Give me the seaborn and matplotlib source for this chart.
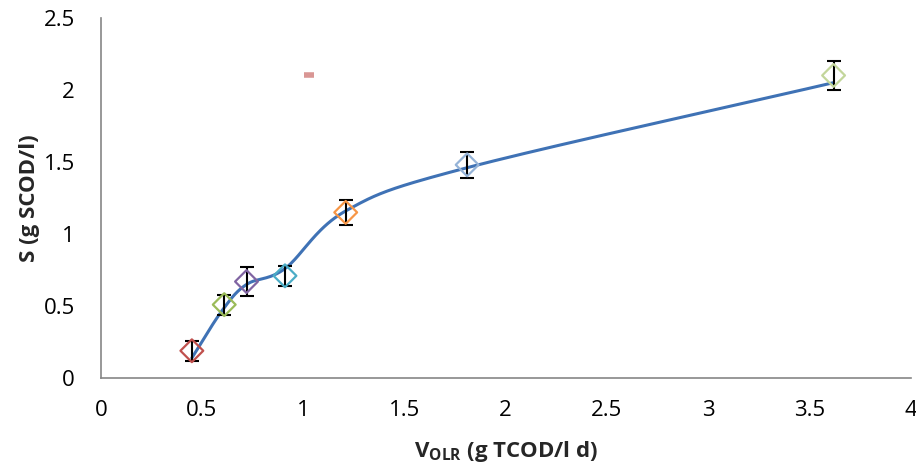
import numpy as np
import pandas as pd
import matplotlib
matplotlib.use("Agg")
import matplotlib.pyplot as plt
import seaborn as sns

# ---- data ----
olr = [0.45, 0.61, 0.72, 0.91, 1.21, 1.81, 3.62]
scod = [0.19, 0.51, 0.67, 0.71, 1.15, 1.48, 2.10]
scod_err = [0.07, 0.07, 0.10, 0.07, 0.085, 0.09, 0.10]
point_colors = ["#C0504D", "#9BBB59", "#8064A2", "#4BACC6", "#F79646", "#95B3D7", "#C3D69B"]

model_x = [0.45, 0.60, 0.72, 0.91, 1.21, 1.81, 3.62]
model_y = [0.14, 0.47, 0.65, 0.76, 1.16, 1.46, 2.05]

extra_x = [1.03]
extra_y = [2.10]

x_ticks = [0, 0.5, 1, 1.5, 2, 2.5, 3, 3.5, 4]
x_tick_labels = ["0", "0.5", "1", "1.5", "2", "2.5", "3", "3.5", "4"]
y_ticks = [0, 0.5, 1, 1.5, 2, 2.5]
y_tick_labels = ["0", "0.5", "1", "1.5", "2", "2.5"]


def smooth(xs, ys, n=40):
    # Catmull-Rom rendering of a smoothed line (like a spreadsheet "smoothed line")
    P = np.column_stack([xs, ys]).astype(float)
    P = np.vstack([P[0] - (P[1] - P[0]), P, P[-1] + (P[-1] - P[-2])])
    out = []
    for i in range(1, len(P) - 2):
        p0, p1, p2, p3 = P[i - 1], P[i], P[i + 1], P[i + 2]
        t = np.linspace(0, 1, n, endpoint=False)[:, None]
        seg = 0.5 * ((2 * p1) + (-p0 + p2) * t + (2 * p0 - 5 * p1 + 4 * p2 - p3) * t ** 2
                     + (-p0 + 3 * p1 - 3 * p2 + p3) * t ** 3)
        out.append(seg)
    out.append(P[-2][None, :])
    return np.vstack(out)


sns.set_theme(style="white")
plt.rcParams["font.family"] = ["Open Sans", "DejaVu Sans"]
plt.rcParams["mathtext.fontset"] = "custom"
plt.rcParams["mathtext.bf"] = "Open Sans:bold"
plt.rcParams["mathtext.rm"] = "Open Sans"

fig = plt.figure(figsize=(9.16, 4.68), dpi=100)
ax = fig.add_axes([0.110, 0.192, 0.884, 0.770])

curve = smooth(model_x, model_y)
df_curve = pd.DataFrame({"x": curve[:, 0], "y": curve[:, 1]})
sns.lineplot(data=df_curve, x="x", y="y", sort=False, ax=ax, color="#3F72B5", lw=2.2, zorder=2)

ax.errorbar(olr, scod, yerr=scod_err, fmt="none", ecolor="black", elinewidth=1.5,
            capsize=5, capthick=1.5, zorder=3)
ax.scatter(olr, scod, marker="D", s=135, facecolors="none", edgecolors=point_colors,
           linewidths=1.6, zorder=4)

ax.plot(extra_x, extra_y, marker="_", ms=7, mew=4, color="#D99694", linestyle="none", zorder=4)

ax.set_xlim(0, 4)
ax.set_ylim(0, 2.5)
ax.set_xticks(x_ticks)
ax.set_xticklabels(x_tick_labels)
ax.set_yticks(y_ticks)
ax.set_yticklabels(y_tick_labels)

for s in ["top", "right"]:
    ax.spines[s].set_visible(False)
for s in ["left", "bottom"]:
    ax.spines[s].set_color("#868686")
    ax.spines[s].set_linewidth(1.2)

ax.tick_params(axis="both", which="both", direction="out", length=5.5, width=1.2,
               color="#868686", labelsize=16, labelcolor="black")
ax.tick_params(axis="x", pad=10)
ax.tick_params(axis="y", pad=13)

ax.set_xlabel(r"$\mathbf{V_{OLR}}$ (g TCOD/l d)", fontsize=16, fontweight="bold", labelpad=13)
ax.set_ylabel("S (g SCOD/l)", fontsize=16, fontweight="bold", labelpad=3)
ax.grid(False)

fig.savefig("out.png", dpi=100)
